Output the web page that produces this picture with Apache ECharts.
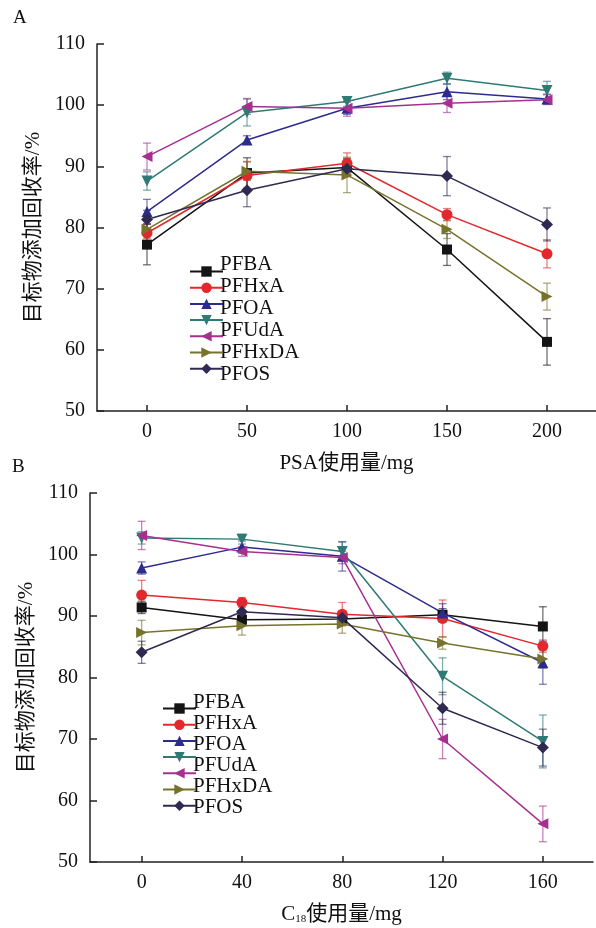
<!DOCTYPE html>
<html>
<head>
<meta charset="utf-8">
<script src="https://cdn.jsdelivr.net/npm/echarts@6/dist/echarts.min.js"></script>
<style>
  html, body { margin: 0; padding: 0; background: #fff; }
  #chart { width: 596px; height: 928px; }
</style>
</head>
<body>
<div id="chart"></div>
<script>
// x values (sorbent dose, mg)
const doseA = [0, 50, 100, 150, 200];
const doseB = [0, 40, 80, 120, 160];
const yTicks = [50, 60, 70, 80, 90, 100, 110];

// series keys (legend text drawn separately, as in the figure)
const seriesKeys = ["PFBA", "PFHxA", "PFOA", "PFUdA-a", "PFUdA-b", "PFHxDA", "PFOS"];
const legendLabels = ["PFBA", "PFHxA", "PFOA", "PFUdA", "PFHxDA", "PFOS"];

// panel A: PSA
const pfbaA = [77.2, 88.9, 89.8, 76.4, 61.3];
const pfhxaA = [79.1, 88.5, 90.5, 82.1, 75.7];
const pfoaA = [82.6, 94.3, 99.5, 102.2, 101.0];
const pfudaTealA = [87.6, 98.8, 100.6, 104.4, 102.4];
const pfudaMagA = [91.6, 99.8, 99.5, 100.3, 100.9];
const pfhxdaA = [79.7, 89.2, 88.6, 79.7, 68.7];
const pfosA = [81.3, 86.1, 89.6, 88.4, 80.5];

const pfbaErrA = [3.3, 2.5, 1.5, 2.6, 3.8];
const pfhxaErrA = [1.5, 2.3, 1.7, 1.0, 2.3];
const pfoaErrA = [2.0, 0.7, 1.0, 1.3, 0.8];
const pfudaTealErrA = [1.5, 2.2, 0.8, 1.0, 1.5];
const pfudaMagErrA = [2.2, 1.3, 1.3, 1.5, 0.8];
const pfhxdaErrA = [1.5, 1.5, 2.9, 1.5, 2.2];
const pfosErrA = [1.5, 2.7, 1.0, 3.2, 2.7];

// panel B: C18
const pfbaB = [91.4, 89.4, 89.5, 90.2, 88.3];
const pfhxaB = [93.4, 92.2, 90.3, 89.6, 85.1];
const pfoaB = [97.8, 101.2, 99.7, 90.5, 82.4];
const pfudaTealB = [102.7, 102.5, 100.5, 80.2, 69.6];
const pfudaMagB = [103.1, 100.5, 99.5, 70.0, 56.2];
const pfhxdaB = [87.3, 88.4, 88.7, 85.6, 83.0];
const pfosB = [84.1, 90.7, 89.7, 75.0, 68.6];

const pfbaErrB = [1.0, 0.8, 1.0, 1.0, 3.2];
const pfhxaErrB = [2.4, 0.8, 1.9, 3.0, 1.0];
const pfoaErrB = [1.0, 1.0, 2.4, 1.5, 3.5];
const pfudaTealErrB = [1.0, 0.8, 1.5, 3.0, 4.3];
const pfudaMagErrB = [2.3, 0.8, 1.0, 3.2, 2.9];
const pfhxdaErrB = [2.0, 1.5, 1.5, 1.0, 1.5];
const pfosErrB = [1.8, 1.0, 1.0, 2.6, 3.0];

const valuesA = [pfbaA, pfhxaA, pfoaA, pfudaTealA, pfudaMagA, pfhxdaA, pfosA];
const errorsA = [pfbaErrA, pfhxaErrA, pfoaErrA, pfudaTealErrA, pfudaMagErrA, pfhxdaErrA, pfosErrA];
const valuesB = [pfbaB, pfhxaB, pfoaB, pfudaTealB, pfudaMagB, pfhxdaB, pfosB];
const errorsB = [pfbaErrB, pfhxaErrB, pfoaErrB, pfudaTealErrB, pfudaMagErrB, pfhxdaErrB, pfosErrB];

const colors = ["#141414", "#e2282d", "#2d2c8e", "#2f7a74", "#a5308f", "#77732c", "#2f2a52"];
const symbols = ["rect", "circle", "triangle", "triangle", "triangle", "triangle", "diamond"];
const rotations = [0, 0, 0, 180, 90, -90, 0];
const sizes = [10, 11, 11, 11, 11, 11, 12];

const FONT = "'Liberation Serif', 'Times New Roman', 'Noto Sans CJK SC', serif";

const chart = echarts.init(document.getElementById("chart"));

function makeX(gridIndex, min, max, ticks, name) {
  return {
    type: "value", gridIndex, min, max,
    name, nameLocation: "middle", nameGap: 42,
    nameTextStyle: {
      color: "#111", fontSize: 21, fontFamily: FONT,
      rich: { sub: { fontSize: 11, fontFamily: FONT, verticalAlign: "bottom", padding: [10, 0, 0, 0] } }
    },
    axisLine: { onZero: false, lineStyle: { color: "#222", width: 1.5 } },
    axisTick: { inside: true, length: 6, customValues: ticks, lineStyle: { color: "#222", width: 1.5 } },
    axisLabel: { customValues: ticks, margin: 11, color: "#111", fontSize: 20, fontFamily: FONT },
    splitLine: { show: false }
  };
}

function makeY(gridIndex) {
  return {
    type: "value", gridIndex, min: 50, max: 110, interval: 10,
    name: "目标物添加回收率/%", nameLocation: "middle", nameGap: 52,
    nameTextStyle: { color: "#111", fontSize: 21, fontFamily: FONT },
    axisLine: { show: true, onZero: false, lineStyle: { color: "#222", width: 1.5 } },
    axisTick: { show: true, inside: true, length: 7, lineStyle: { color: "#222", width: 1.5 } },
    axisLabel: { margin: 12, color: "#111", fontSize: 20, fontFamily: FONT },
    splitLine: { show: false }
  };
}

function errorSeries(axisIndex, xs, ys, errs, color) {
  return {
    type: "custom", xAxisIndex: axisIndex, yAxisIndex: axisIndex, z: 1,
    silent: true,
    data: xs.map((x, i) => [x, ys[i], errs[i]]),
    renderItem: (params, api) => {
      const x = api.value(0), y = api.value(1), e = api.value(2);
      const hi = api.coord([x, y + e]);
      const lo = api.coord([x, y - e]);
      const w = 4;
      const style = { stroke: color, lineWidth: 1.3, opacity: 0.6 };
      return {
        type: "group",
        children: [
          { type: "line", shape: { x1: hi[0], y1: hi[1], x2: lo[0], y2: lo[1] }, style },
          { type: "line", shape: { x1: hi[0] - w, y1: hi[1], x2: hi[0] + w, y2: hi[1] }, style },
          { type: "line", shape: { x1: lo[0] - w, y1: lo[1], x2: lo[0] + w, y2: lo[1] }, style }
        ]
      };
    }
  };
}

function lineSeries(axisIndex, xs, ys, k) {
  return {
    name: seriesKeys[k], type: "line", xAxisIndex: axisIndex, yAxisIndex: axisIndex, z: 3,
    data: xs.map((x, i) => [x, ys[i]]),
    symbol: symbols[k], symbolRotate: rotations[k], symbolSize: sizes[k],
    lineStyle: { color: colors[k], width: 1.5 },
    itemStyle: { color: colors[k] },
    emphasis: { disabled: true }
  };
}

const series = [];
valuesA.forEach((v, k) => series.push(errorSeries(0, doseA, v, errorsA[k], colors[k])));
valuesB.forEach((v, k) => series.push(errorSeries(1, doseB, v, errorsB[k], colors[k])));
valuesA.forEach((v, k) => series.push(lineSeries(0, doseA, v, k)));
valuesB.forEach((v, k) => series.push(lineSeries(1, doseB, v, k)));

function legendText(left, top0, step) {
  return legendLabels.map((t, i) => ({
    type: "text", left, top: top0 + i * step,
    style: { text: t, fill: "#111", fontSize: 21, fontFamily: FONT }
  }));
}

function makeLegend(left, top) {
  return {
    data: seriesKeys, orient: "vertical", left, top,
    itemWidth: 33, itemHeight: 13, itemGap: 4.5,
    formatter: () => "", selectedMode: false,
    textStyle: { fontSize: 1 }
  };
}

chart.setOption({
  backgroundColor: "#fff",
  animation: false,
  grid: [
    { left: 97, top: 44, width: 499, height: 367 },
    { left: 90, top: 493, width: 503, height: 369 }
  ],
  xAxis: [
    makeX(0, -25, 224.5, doseA, "PSA使用量/mg"),
    makeX(1, -20.6, 180, doseB, "C{sub|18}使用量/mg")
  ],
  yAxis: [makeY(0), makeY(1)],
  legend: [makeLegend(184, 260), makeLegend(157, 697)],
  graphic: [
    { type: "text", left: 13, top: 9, style: { text: "A", fill: "#111", fontSize: 19, fontFamily: FONT } },
    { type: "text", left: 12, top: 458, style: { text: "B", fill: "#111", fontSize: 19, fontFamily: FONT } },
    ...legendText(220, 254, 21.9),
    ...legendText(193, 692, 21)
  ],
  series
});
</script>
</body>
</html>
